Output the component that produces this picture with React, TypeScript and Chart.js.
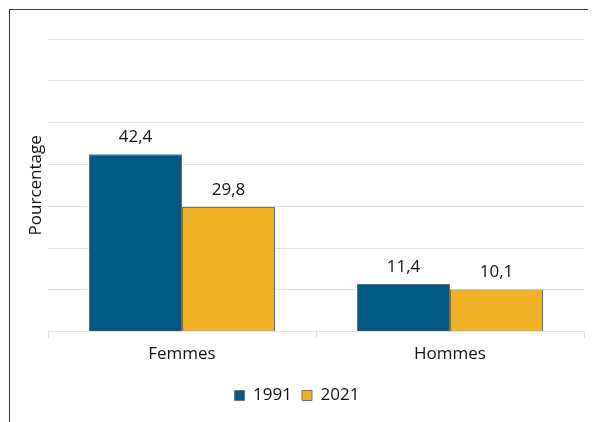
import React, { useEffect, useRef } from "react";
import { Chart, registerables } from "chart.js";

Chart.register(...registerables);

const categories = ["Femmes", "Hommes"];
const seriesLabels = ["1991", "2021"];
const values1991 = [42.4, 11.4];
const values2021 = [29.8, 10.1];
const yMax = 70;
const yStep = 10;
const yTitle = "Pourcentage";

const FONT = "'Open Sans', 'Noto Sans', sans-serif";
const TEXT = "#111111";

const valueLabels = {
  id: "valueLabels",
  afterDatasetsDraw(chart: any) {
    const ctx = chart.ctx;
    ctx.save();
    ctx.font = `17px ${FONT}`;
    ctx.fillStyle = TEXT;
    ctx.textAlign = "center";
    ctx.textBaseline = "alphabetic";
    chart.data.datasets.forEach((ds: any, i: number) => {
      const meta = chart.getDatasetMeta(i);
      meta.data.forEach((bar: any, j: number) => {
        const v = ds.data[j];
        ctx.fillText(String(v).replace(".", ","), bar.x, bar.y - 12);
      });
    });
    ctx.restore();
  },
};

export default function App() {
  const ref = useRef<HTMLCanvasElement>(null);
  useEffect(() => {
    if (!ref.current) return;
    const chart = new Chart(ref.current, {
      type: "bar",
      data: {
        labels: categories,
        datasets: [
          {
            label: seriesLabels[0],
            data: values1991,
            backgroundColor: "#005b84",
            borderColor: "#6f6f6f",
            borderWidth: 1,
          },
          {
            label: seriesLabels[1],
            data: values2021,
            backgroundColor: "#efb126",
            borderColor: "#6f6f6f",
            borderWidth: 1,
          },
        ],
      },
      options: {
        animation: false,
        responsive: false,
        maintainAspectRatio: false,
        datasets: { bar: { categoryPercentage: 0.694, barPercentage: 1 } },
        layout: { padding: { top: 29, right: 12, bottom: 8, left: 0 } },
        scales: {
          x: {
            afterFit(scale: any) {
              scale.height = scale.height + 7;
            },
            grid: {
              drawOnChartArea: false,
              drawTicks: true,
              tickLength: 6,
              color: "#d9d9d9",
            },
            border: { display: false },
            ticks: { font: { size: 17, family: FONT }, color: TEXT, padding: 6 },
          },
          y: {
            min: 0,
            max: yMax,
            afterFit(scale: any) {
              scale.width = 38;
            },
            ticks: { display: false, stepSize: yStep },
            grid: { color: "#e3e3e3", drawTicks: false },
            border: { display: false },
            title: {
              display: true,
              text: yTitle,
              font: { size: 17, family: FONT },
              color: TEXT,
              padding: { top: 16, bottom: 0 },
            },
          },
        },
        plugins: {
          legend: {
            position: "bottom",
            labels: {
              font: { size: 17, family: FONT },
              color: TEXT,
              boxWidth: 10,
              boxHeight: 10,
              padding: 10,
            },
          },
          tooltip: { enabled: false },
        },
      },
      plugins: [valueLabels],
    });
    return () => chart.destroy();
  }, []);
  return (
    <div
      style={{
        marginLeft: 1,
        marginTop: 1,
        width: 587,
        height: 413,
        borderTop: "1px solid #3c3c3c",
        borderLeft: "1px solid #3c3c3c",
        boxSizing: "border-box",
      }}
    >
      <canvas ref={ref} width={586} height={412} style={{ display: "block" }} />
    </div>
  );
}
